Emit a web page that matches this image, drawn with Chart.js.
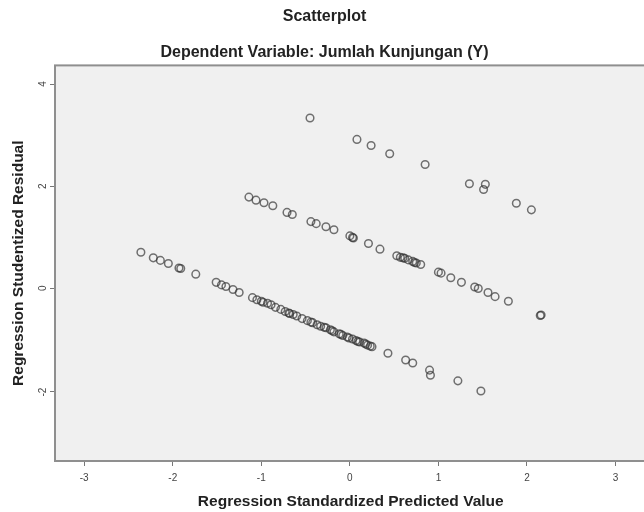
<!DOCTYPE html>
<html><head><meta charset="utf-8">
<script src="https://cdn.jsdelivr.net/npm/chart.js@4/dist/chart.umd.min.js"></script>
<style>
html,body{margin:0;padding:0;background:#fff;overflow:hidden;width:644px;height:512px}
#wrap{width:652px;height:512px}
canvas{display:block}
</style>
</head><body><div id="wrap"><canvas id="c" width="652" height="512"></canvas></div>
<script>
const titleText = 'Scatterplot';
const subtitleText = 'Dependent Variable: Jumlah Kunjungan (Y)';
const xAxisTitle = 'Regression Standardized Predicted Value';
const yAxisTitle = 'Regression Studentized Residual';
const xTicks = [-3, -2, -1, 0, 1, 2, 3];
const yTicks = [-2, 0, 2, 4];

// lower band
const xBottom = [-2.36,-2.22,-2.14,-2.05,-1.93,-1.91,-1.74,-1.51,-1.45,-1.40,-1.32,-1.25,-1.10,-1.05,-1.00,-0.98,-0.93,-0.89,-0.84,-0.78,-0.73,-0.69,-0.68,-0.64,-0.60,-0.54,-0.48,-0.44,-0.42,-0.37,-0.33,-0.29,-0.27,-0.22,-0.20,-0.18,-0.12,-0.10,-0.08,-0.03,-0.01,0.03,0.07,0.09,0.11,0.16,0.18,0.20,0.23,0.25,0.43,0.63,0.71,0.90,0.91,1.22,1.48];
const yBottom = [0.72,0.61,0.56,0.50,0.41,0.40,0.29,0.13,0.08,0.05,-0.01,-0.07,-0.17,-0.21,-0.24,-0.26,-0.28,-0.31,-0.36,-0.40,-0.44,-0.47,-0.48,-0.50,-0.53,-0.58,-0.62,-0.65,-0.66,-0.70,-0.73,-0.75,-0.76,-0.80,-0.82,-0.84,-0.88,-0.89,-0.91,-0.94,-0.96,-0.98,-1.01,-1.03,-1.04,-1.06,-1.08,-1.10,-1.12,-1.13,-1.26,-1.39,-1.45,-1.59,-1.69,-1.80,-2.00];

// middle band
const xMiddle = [-1.14,-1.06,-0.97,-0.87,-0.71,-0.65,-0.44,-0.38,-0.27,-0.18,0.00,0.03,0.04,0.21,0.34,0.53,0.57,0.60,0.62,0.66,0.71,0.73,0.75,0.80,1.00,1.03,1.14,1.26,1.41,1.45,1.56,1.64,1.79,2.15,2.16];
const yMiddle = [1.80,1.74,1.69,1.63,1.50,1.46,1.32,1.28,1.22,1.16,1.04,1.01,1.00,0.89,0.78,0.65,0.62,0.61,0.60,0.57,0.54,0.52,0.51,0.48,0.33,0.31,0.22,0.13,0.04,0.01,-0.07,-0.15,-0.24,-0.52,-0.51];

// upper band
const xTop = [-0.45,0.08,0.24,0.45,0.85,1.35,1.53,1.51,1.88,2.05];
const yTop = [3.35,2.93,2.81,2.65,2.44,2.06,2.05,1.95,1.68,1.55];

const FONT = "'Liberation Sans', Arial, sans-serif";
Chart.defaults.font.family = FONT;

function pts(xs, ys) { return xs.map((x, i) => ({ x: x, y: ys[i] })); }

const pointStyle = {
  showLine: false,
  pointStyle: 'circle',
  pointRadius: 3.8,
  pointBorderWidth: 1.5,
  pointBorderColor: 'rgba(50,50,50,0.68)',
  pointBackgroundColor: 'rgba(0,0,0,0)'
};

const framePlugin = {
  id: 'frame',
  beforeDraw(chart) {
    const { ctx, chartArea: a } = chart;
    ctx.save();
    ctx.fillStyle = '#f0f0f0';
    ctx.fillRect(a.left, a.top, a.right - a.left, a.bottom - a.top);
    ctx.restore();
  },
  afterDraw(chart) {
    const { ctx, chartArea: a } = chart;
    ctx.save();
    ctx.strokeStyle = '#8f8f8f';
    ctx.lineWidth = 2;
    ctx.strokeRect(a.left, a.top, a.right - a.left, a.bottom - a.top);
    ctx.restore();
  }
};

new Chart(document.getElementById('c'), {
  type: 'scatter',
  data: {
    datasets: [
      Object.assign({ label: 'bottom', data: pts(xBottom, yBottom) }, pointStyle),
      Object.assign({ label: 'middle', data: pts(xMiddle, yMiddle) }, pointStyle),
      Object.assign({ label: 'top', data: pts(xTop, yTop) }, pointStyle)
    ]
  },
  options: {
    responsive: false,
    animation: false,
    devicePixelRatio: 1,
    layout: { padding: { left: 0, right: 3, top: 0, bottom: 0 } },
    plugins: {
      legend: { display: false },
      tooltip: { enabled: false },
      title: {
        display: true, text: titleText, color: '#222',
        font: { size: 16, weight: 'bold', family: FONT },
        padding: { top: 7, bottom: 17 }
      },
      subtitle: {
        display: true, text: subtitleText, color: '#222',
        font: { size: 16, weight: 'bold', family: FONT },
        padding: { top: 0, bottom: 3 }
      }
    },
    scales: {
      x: {
        type: 'linear', min: -3.33, max: 3.35,
        afterBuildTicks: s => { s.ticks = xTicks.map(v => ({ value: v })); },
        afterFit: s => { s.height = 51; },
        grid: { drawOnChartArea: false, drawTicks: true, tickLength: 5, color: '#777', tickWidth: 1 },
        border: { display: false },
        ticks: { font: { size: 10 }, color: '#444', padding: 6, minRotation: 0, maxRotation: 0 },
        title: { display: true, text: xAxisTitle, color: '#222', font: { size: 15.5, weight: 'bold' }, padding: { top: 0, bottom: 1 } }
      },
      y: {
        type: 'linear', min: -3.37, max: 4.38,
        afterBuildTicks: s => { s.ticks = yTicks.map(v => ({ value: v })); },
        afterFit: s => { s.width = 55; },
        grid: { drawOnChartArea: false, drawTicks: true, tickLength: 5, color: '#777', tickWidth: 1 },
        border: { display: false },
        ticks: { font: { size: 10 }, color: '#444', padding: 7, minRotation: 90, maxRotation: 90, labelOffset: -3.5 },
        title: { display: true, text: yAxisTitle, color: '#222', font: { size: 15.5, weight: 'bold' }, padding: { top: 9, bottom: 0 } }
      }
    }
  },
  plugins: [framePlugin]
});
</script>
</body></html>
